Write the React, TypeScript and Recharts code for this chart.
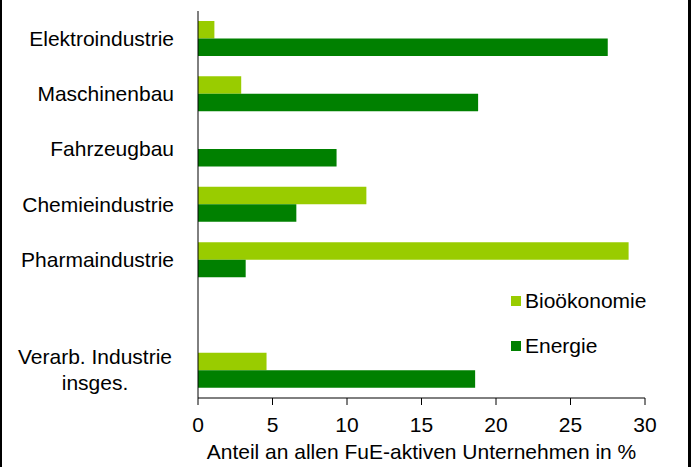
import { BarChart, Bar, XAxis, YAxis } from "recharts";

const categories = [
  "Elektroindustrie",
  "Maschinenbau",
  "Fahrzeugbau",
  "Chemieindustrie",
  "Pharmaindustrie",
  "",
  "Verarb. Industrie\ninsges.",
];
const biooekonomie = [1.1, 2.9, 0, 11.3, 28.9, null, 4.6];
const energie = [27.5, 18.8, 9.3, 6.6, 3.2, null, 18.6];
const xTicks = [0, 5, 10, 15, 20, 25, 30];

const data = categories.map((name, i) => ({
  name,
  bio: biooekonomie[i],
  energie: energie[i],
}));

const FONT = "'Liberation Sans', Arial, sans-serif";
const FS = 21;

const CategoryTick = (props: any) => {
  const { x, y, payload } = props;
  const lines = String(payload.value).split("\n");
  if (lines.length === 1) {
    return (
      <text x={x} y={y} dy={7} textAnchor="end" fontSize={FS} fill="#000" fontFamily={FONT}>
        {lines[0]}
      </text>
    );
  }
  // multi-line label: lines centred under each other
  return (
    <text x={x - 79} y={y} textAnchor="middle" fontSize={FS} fill="#000" fontFamily={FONT}>
      {lines.map((l, i) => (
        <tspan key={i} x={x - 79} dy={i === 0 ? -6 : 26}>
          {l}
        </tspan>
      ))}
    </text>
  );
};

const legendItems = [
  { label: "Bioökonomie", color: "#99cc00" },
  { label: "Energie", color: "#008000" },
];

export default function App() {
  return (
    <div
      style={{
        position: "absolute",
        left: 0,
        top: 0,
        width: 691,
        height: 467,
        background: "#fff",
        boxSizing: "border-box",
        borderLeft: "2px solid #000",
        borderRight: "3px solid #000",
        overflow: "hidden",
      }}
    >
      <BarChart
        width={691}
        height={467}
        data={data}
        layout="vertical"
        margin={{ top: 11, right: 46, left: 0, bottom: 0 }}
        barGap={0}
        barSize={17.5}
        style={{ position: "absolute", left: -2, top: 0 }}
      >
        <XAxis
          type="number"
          domain={[0, 30]}
          ticks={xTicks}
          interval={0}
          height={69}
          tick={{ fontSize: FS, fill: "#000", fontFamily: FONT }}
          tickSize={7}
          tickMargin={12}
          stroke="#000"
          label={{
            value: "Anteil an allen FuE-aktiven Unternehmen in %",
            position: "insideBottom",
            offset: 8,
            fontSize: FS,
            fill: "#000",
            fontFamily: FONT,
          }}
        />
        <YAxis
          type="category"
          dataKey="name"
          width={198}
          tickLine={false}
          tick={<CategoryTick />}
          tickMargin={18}
          interval={0}
          stroke="#000"
        />
        <Bar dataKey="bio" name="Bioökonomie" fill="#99cc00" isAnimationActive={false} />
        <Bar dataKey="energie" name="Energie" fill="#008000" isAnimationActive={false} />
      </BarChart>
      <div
        style={{
          position: "absolute",
          left: 509,
          top: 278,
          fontFamily: FONT,
          fontSize: FS,
          color: "#000",
        }}
      >
        {legendItems.map((e) => (
          <div key={e.label} style={{ display: "flex", alignItems: "center", height: 45 }}>
            <span style={{ width: 10, height: 10, background: e.color, marginRight: 4 }} />
            {e.label}
          </div>
        ))}
      </div>
    </div>
  );
}
